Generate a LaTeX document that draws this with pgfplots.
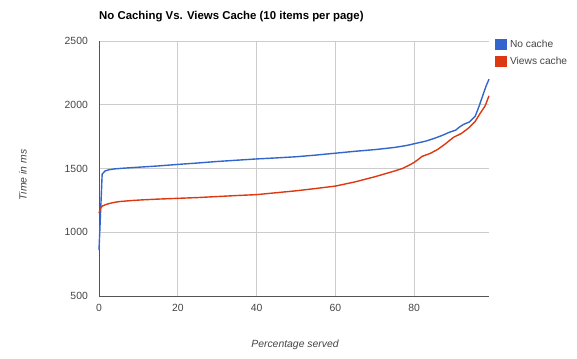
\documentclass[border=0pt]{standalone}
\usepackage{pgfplots}
\pgfplotsset{compat=1.18}
\usepackage{fontspec}
\setmainfont{Liberation Sans}
\definecolor{gblue}{HTML}{3366CC}
\definecolor{gred}{HTML}{DC3912}
\definecolor{ggrid}{HTML}{CCCCCC}
\definecolor{gaxis}{HTML}{555555}
\definecolor{gtick}{HTML}{444444}
\begin{document}
\begin{tikzpicture}[x=1pt,y=1pt]
\path[use as bounding box] (0,0) rectangle (577,358);
\begin{axis}[
  at={(99pt,62pt)}, anchor=south west,
  scale only axis, width=390pt, height=255pt,
  xmin=0, xmax=99, ymin=500, ymax=2500,
  xtick={0,20,40,60,80}, ytick={500,1000,1500,2000,2500},
  axis lines=left, axis line style={gaxis, line width=0.8pt, -},
  tick style={draw=none},
  grid=major, grid style={ggrid, line width=0.6pt},
  ticklabel style={font=\fontsize{10.4}{12}\selectfont, text=gtick},
  /pgf/number format/assume math mode=true,
  /pgf/number format/1000 sep={},
  xticklabel style={yshift=-3pt},
  yticklabel style={xshift=-5.5pt},
  every axis plot/.append style={line width=1.4pt, mark=none},
  legend style={at={(1.0154,1.01)}, anchor=north west, draw=none, fill=none,
    font=\fontsize{10.2}{12}\selectfont, text=gtick, row sep=5pt, inner sep=0pt,
    nodes={inner sep=1.5pt}},
  legend cell align=left,
  legend image code/.code={\fill[#1] (0pt,-5pt) rectangle (10pt,5pt); \path (12pt,0pt);},
  clip=false,
]
\addplot[gblue] coordinates {
(0,860) (0.8,1455) (1.5,1480) (2.5,1490) (4,1497) (6,1502) (10,1510) (15,1520)
(20,1532) (25,1543) (30,1555) (35,1565) (40,1575) (45,1583) (50,1592) (55,1605)
(60,1620) (65,1635) (70,1648) (75,1665) (78,1680) (80,1694) (83,1715) (85,1735)
(87,1758) (89,1785) (90.5,1800) (91.5,1825) (92.5,1845) (94,1865) (95.5,1910)
(96.5,1990) (97.5,2080) (98.3,2150) (99,2200)
};
\addlegendentry{No cache}
\addplot[gred] coordinates {
(0,1150) (0.5,1195) (1,1208) (2,1220) (3.5,1232) (5,1240) (8,1248) (11,1254)
(15,1260) (20,1266) (25,1272) (30,1280) (35,1288) (40,1295) (45,1310) (50,1325)
(55,1343) (60,1362) (65,1395) (70,1435) (75,1480) (77,1500) (79,1530) (80,1548)
(81,1570) (82,1595) (84,1617) (86,1650) (88,1695) (90,1745) (91,1760) (92,1775)
(94,1822) (95.5,1870) (96.7,1930) (98,1990) (99,2070)
};
\addlegendentry{Views cache}
\end{axis}
\node[anchor=west, inner sep=0pt, font=\fontsize{11.4}{13}\selectfont\bfseries] at (99,341) {No Caching Vs. Views Cache (10 items per page)};
\node[font=\fontsize{10.4}{12}\selectfont\itshape, text=gtick] at (295,13) {Percentage served};
\node[font=\fontsize{10.4}{12}\selectfont\itshape, text=gtick, rotate=90] at (23,183) {Time in ms};
\end{tikzpicture}
\end{document}
